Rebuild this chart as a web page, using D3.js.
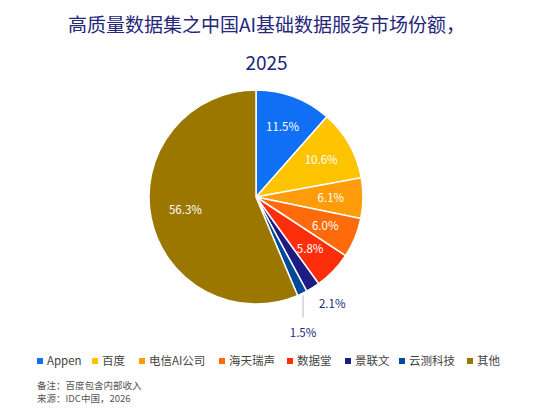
<!DOCTYPE html>
<html><head><meta charset="utf-8">
<script src="https://cdn.jsdelivr.net/npm/d3@7"></script>
<style>body{margin:0;background:#fff;font-family:"Noto Sans CJK SC","Noto Sans",sans-serif}</style>
</head><body>
<script>
var categories=["Appen","百度","电信AI公司","海天瑞声","数据堂","景联文","云测科技","其他"];
var shares=[11.5,10.6,6.1,6.0,5.8,2.1,1.5,56.3];
var colors=["#0f6ff5","#ffc400","#ff9c0a","#ff6b0a","#ff2e0a","#1c1c84","#00489a","#9b7700"];
var w=533,h=412,cx=256,cy=197,r=107;
var svg=d3.select("body").append("svg").attr("width",w).attr("height",h);
var font='"Noto Sans CJK SC","Noto Sans",sans-serif';
svg.append("text").attr("x",w/2).attr("y",32).attr("text-anchor","middle").attr("font-size",19).attr("fill","#26267a").attr("font-family",font).text("高质量数据集之中国AI基础数据服务市场份额，");
svg.append("text").attr("x",w/2).attr("y",70).attr("text-anchor","middle").attr("font-size",19).attr("fill","#26267a").attr("font-family",font).text("2025");
var pie=d3.pie().sort(null).value(function(d){return d;});
var arcs=pie(shares);
var arc=d3.arc().innerRadius(0).outerRadius(r);
var g=svg.append("g").attr("transform","translate("+cx+","+cy+")");
g.selectAll("path").data(arcs).enter().append("path").attr("d",arc)
 .attr("fill",function(d,i){return colors[i];}).attr("stroke","#fff").attr("stroke-width",1.5);
var inner=d3.arc().innerRadius(r*0.7).outerRadius(r*0.7);
arcs.forEach(function(d,i){
  var p,col="#fff",a=(d.startAngle+d.endAngle)/2;
  if(i==5){p=[Math.sin(a)*(r+14)+12,-Math.cos(a)*(r+14)+4];col="#26267a";}
  else if(i==6){
    var x0=Math.sin(a)*(r+2),y0=-Math.cos(a)*(r+2);
    g.append("line").attr("x1",x0).attr("y1",y0).attr("x2",x0).attr("y2",y0+22).attr("stroke","#bbb");
    p=[x0,y0+38];col="#26267a";}
  else {p=inner.centroid(d); if(i==7)p=[-r*0.66,r*0.12];}
  g.append("text").attr("x",p[0]).attr("y",p[1]).attr("dy","0.35em").attr("text-anchor","middle")
   .attr("font-size",11.5).attr("font-family",font).attr("fill",col).text(d.data.toFixed(1)+"%");
});
var lx=[37,92,139,219,287,345,399,467];
var leg=svg.selectAll("g.leg").data(categories).enter().append("g").attr("transform",function(d,i){return "translate("+lx[i]+",361)";});
leg.append("rect").attr("width",6).attr("height",6).attr("y",-3).attr("fill",function(d,i){return colors[i];});
leg.append("text").attr("x",10).attr("dy","0.35em").attr("font-size",11.5).attr("fill","#444").attr("font-family",font).text(function(d){return d;});
svg.append("text").attr("x",37).attr("y",389).attr("font-size",9.5).attr("fill","#555").attr("font-family",font).text("备注：百度包含内部收入");
svg.append("text").attr("x",37).attr("y",402).attr("font-size",9.5).attr("fill","#555").attr("font-family",font).text("来源：IDC中国，2026");
</script></body></html>
